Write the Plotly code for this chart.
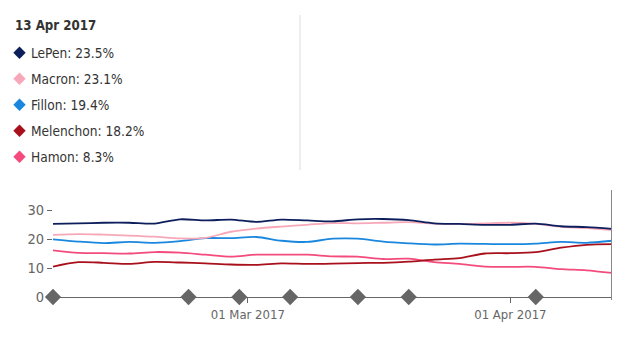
import plotly.graph_objects as go
from datetime import datetime

dates = ["2017-02-06", "2017-02-09", "2017-02-12", "2017-02-15", "2017-02-18", "2017-02-21",
         "2017-02-24", "2017-02-27", "2017-03-02", "2017-03-05", "2017-03-08", "2017-03-11",
         "2017-03-14", "2017-03-17", "2017-03-20", "2017-03-23", "2017-03-26", "2017-03-29",
         "2017-04-01", "2017-04-04", "2017-04-07", "2017-04-10", "2017-04-13"]

lepen = [25.2, 25.4, 25.6, 25.6, 25.3, 26.8, 26.4, 26.7, 25.9, 26.7, 26.4, 26.1,
         26.8, 26.9, 26.5, 25.4, 25.2, 24.9, 24.9, 25.3, 24.4, 24.1, 23.5]
macron = [21.4, 21.7, 21.5, 21.2, 20.8, 20.2, 20.4, 22.5, 23.6, 24.3, 24.9, 25.5,
          25.4, 25.6, 25.8, 25.3, 25.2, 25.4, 25.6, 25.2, 24.2, 23.8, 23.1]
fillon = [19.9, 19.1, 18.6, 19.0, 18.7, 19.3, 20.3, 20.3, 20.7, 19.4, 19.0, 20.1,
          20.1, 19.1, 18.5, 18.1, 18.4, 18.3, 18.2, 18.4, 19.0, 18.7, 19.4]
melenchon = [10.5, 12.0, 11.8, 11.4, 12.1, 11.9, 11.6, 11.2, 11.1, 11.6, 11.4, 11.5,
             11.7, 11.8, 12.2, 12.9, 13.4, 15.0, 15.1, 15.5, 17.0, 18.0, 18.2]
hamon = [16.1, 15.2, 15.1, 15.0, 15.5, 15.3, 14.6, 13.9, 14.6, 14.6, 14.6, 14.0,
         13.9, 13.1, 13.2, 12.0, 11.4, 10.5, 10.4, 10.4, 9.6, 9.2, 8.3]

event_dates = ["2017-02-06", "2017-02-22", "2017-02-28", "2017-03-06", "2017-03-14",
               "2017-03-20", "2017-04-04"]

names = ["LePen", "Macron", "Fillon", "Melenchon", "Hamon"]
colors = ["#0c1f5c", "#f7a8b8", "#1a87de", "#a8111c", "#f44b7d"]
series = [lepen, macron, fillon, melenchon, hamon]

x_ticks = ["2017-03-01", "2017-04-01"]
y_ticks = [0, 10, 20, 30]

FONT = "DejaVu Sans Condensed, sans-serif"

# layout geometry (pixels)
W, H = 637, 343
L, R, T, B = 53, 25, 190, 46
pw, ph = W - L - R, H - T - B

def px2x(px):
    return (px - L) / pw

def py2y(py):
    return (H - B - py) / ph

fig = go.Figure()

draw_order = [4, 3, 2, 1, 0]
for i in draw_order:
    fig.add_trace(go.Scatter(
        x=dates, y=series[i], mode="lines", name=names[i],
        line=dict(color=colors[i], width=1.8, shape="spline", smoothing=0.8),
        hoverinfo="skip", showlegend=False))

fig.add_trace(go.Scatter(
    x=event_dates, y=[0] * len(event_dates), mode="markers",
    marker=dict(symbol="diamond", size=12.5, color="#666666"),
    cliponaxis=False, hoverinfo="skip", showlegend=False))

annotations = []
shapes = []

last_date = datetime.strptime(dates[-1], "%Y-%m-%d")
annotations.append(dict(
    x=px2x(13), y=py2y(26), xref="paper", yref="paper", xanchor="left", yanchor="middle",
    text="<b>%d %s</b>" % (last_date.day, last_date.strftime("%b %Y")), showarrow=False,
    font=dict(family=FONT, size=13.2, color="#333333")))

for k, (n, c, s) in enumerate(zip(names, colors, series)):
    cy = 52.7 + 26 * k
    annotations.append(dict(
        x=px2x(28.5), y=py2y(cy), xref="paper", yref="paper", xanchor="left", yanchor="middle",
        text="%s: %.1f%%" % (n, s[-1]), showarrow=False,
        font=dict(family=FONT, size=13.6, color="#333333")))
    shapes.append(dict(
        type="path", xref="paper", yref="paper", xsizemode="pixel", ysizemode="pixel",
        xanchor=px2x(19.5), yanchor=py2y(cy),
        path="M -6.2,0 L 0,6.2 L 6.2,0 L 0,-6.2 Z",
        fillcolor=c, line=dict(width=0)))

# separator in the legend area
shapes.append(dict(type="line", xref="paper", yref="paper",
                   x0=px2x(300), x1=px2x(300), y0=py2y(15), y1=py2y(170),
                   line=dict(color="#dddddd", width=1)))
# cursor line at the last date
shapes.append(dict(type="line", xref="x", yref="paper",
                   x0=dates[-1], x1=dates[-1], y0=py2y(300), y1=1,
                   line=dict(color="#888888", width=2)))

fig.update_layout(
    width=W, height=H,
    margin=dict(l=L, r=R, t=T, b=B, pad=0),
    paper_bgcolor="white", plot_bgcolor="white",
    font=dict(family=FONT, size=13, color="#666666"),
    annotations=annotations, shapes=shapes,
    hovermode=False,
    xaxis=dict(range=[dates[0], dates[-1]], showgrid=False, zeroline=False,
               showline=True, linecolor="#666666", linewidth=1,
               ticks="outside", ticklen=5, tickcolor="#666666",
               tickvals=x_ticks, tickformat="%d %b %Y",
               tickfont=dict(family=FONT, size=13, color="#666666")),
    yaxis=dict(range=[0, 36.9], showgrid=False, zeroline=False, showline=False,
               ticks="outside", ticklen=5, tickcolor="#666666",
               tickvals=y_ticks,
               tickfont=dict(family=FONT, size=14.5, color="#666666")),
)

fig.write_html("out.html", config=dict(displayModeBar=False))
